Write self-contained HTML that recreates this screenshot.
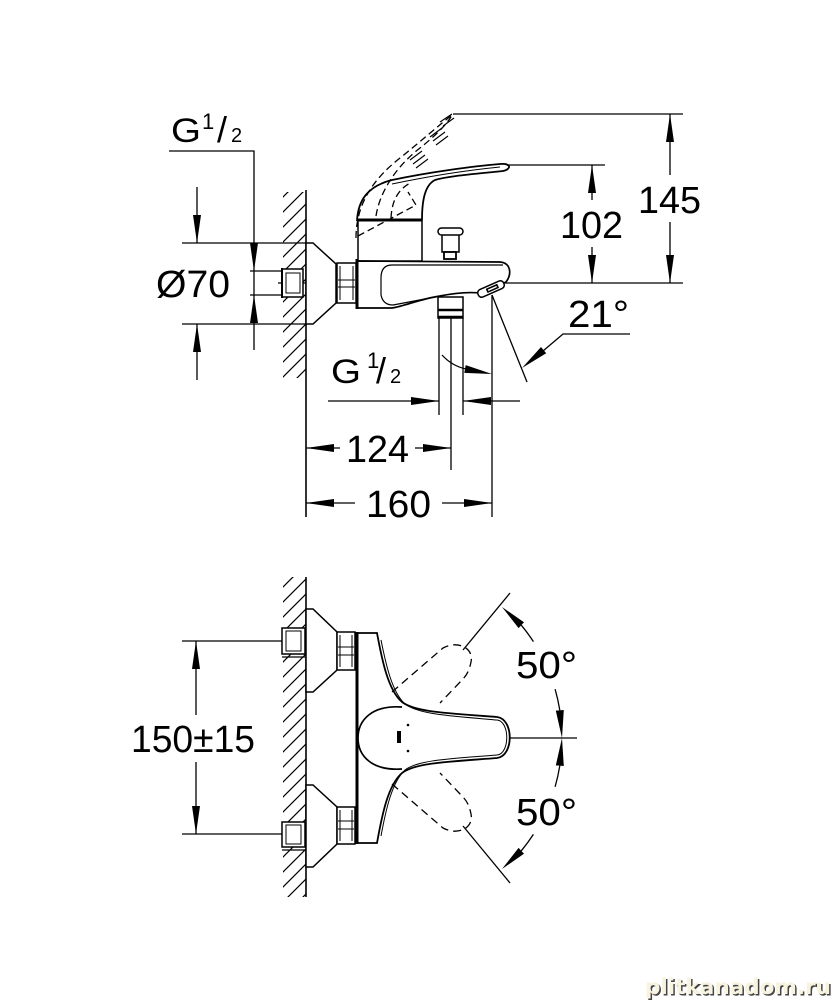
<!DOCTYPE html>
<html><head><meta charset="utf-8"><style>
html,body{margin:0;padding:0;background:#fff;}
svg{display:block;}
text{font-family:"Liberation Sans",Arial,sans-serif;fill:#000;}
</style></head><body>
<svg width="833" height="1000" viewBox="0 0 833 1000" xmlns="http://www.w3.org/2000/svg">
<defs>
<pattern id="h" width="15" height="15" patternUnits="userSpaceOnUse">
<path d="M-2,17 L17,-2 M-2,2 L2,-2 M13,17 L17,13" stroke="#000" stroke-width="1.2" fill="none"/>
</pattern>
</defs>
<rect width="833" height="1000" fill="#fff"/>

<!-- ============ TOP DRAWING ============ -->
<rect x="283" y="192" width="23" height="186" fill="url(#h)"/>
<g fill="none" stroke="#000" stroke-width="1.3">
  <line x1="306" y1="190" x2="306" y2="517" stroke-width="1.6"/>
  <polyline points="169,151 254,151 254,350"/>
  <line x1="250" y1="271" x2="283" y2="271"/>
  <line x1="250" y1="295" x2="283" y2="295"/>
  <line x1="182" y1="243" x2="307" y2="243"/>
  <line x1="182" y1="324" x2="307" y2="324"/>
  <line x1="197" y1="187" x2="197" y2="243"/>
  <line x1="197" y1="324" x2="197" y2="380"/>
  <line x1="278" y1="283" x2="683" y2="283"/>
  <line x1="453" y1="114" x2="683" y2="114"/>
  <line x1="505" y1="165" x2="605" y2="165"/>
  <line x1="592" y1="165" x2="592" y2="200"/>
  <line x1="592" y1="247" x2="592" y2="283"/>
  <line x1="670" y1="114" x2="670" y2="175"/>
  <line x1="670" y1="222" x2="670" y2="283"/>
  <line x1="492" y1="295" x2="527" y2="382"/>
  <polyline points="630,334 563,334 543,351"/>
  <line x1="439" y1="318" x2="439" y2="415"/>
  <line x1="451" y1="318" x2="451" y2="470"/>
  <line x1="463" y1="318" x2="463" y2="415"/>
  <line x1="492" y1="295" x2="492" y2="517"/>
  <line x1="328" y1="401" x2="439" y2="401"/>
  <line x1="463" y1="401" x2="520" y2="401"/>
  <path d="M442,355 Q452,366 466,369"/>
  <line x1="306" y1="448" x2="340" y2="448"/>
  <line x1="415" y1="448" x2="451" y2="448"/>
  <line x1="306" y1="503" x2="355" y2="503"/>
  <line x1="442" y1="503" x2="492" y2="503"/>
</g>

<g fill="#fff" stroke="#000" stroke-width="1.5">
  <rect x="282" y="269" width="21" height="28"/>
  <rect x="286" y="273" width="14" height="20" fill="none" stroke-width="1"/>
  <polygon points="306,243 313,243 336,264 336,303 313,324 306,324"/>
  <rect x="337" y="263" width="19" height="40"/>
  <g fill="none" stroke-width="1">
    <line x1="340" y1="266" x2="340" y2="300"/>
    <line x1="353" y1="266" x2="353" y2="300"/>
    <line x1="338" y1="280" x2="355" y2="280"/>
    <line x1="338" y1="287" x2="355" y2="287"/>
  </g>
  <rect x="358" y="220" width="64" height="41"/>
  <path d="M357,221 C358,200 368,186 392,180 C430,172 475,166 500,164 C511,163 512,169 503,171 C475,174 448,176 435,180 C425,185 422,200 422,220" fill="#fff" stroke-width="1.8"/>
  <path d="M392,184 C430,176 470,170 500,167" fill="none" stroke-width="1"/>
  <path d="M357,261 L500,262 C511,263 512,274 506,282 L480,293 C470,292 455,293 440,296 C420,299 405,306 392,308 L357,308 Z" stroke-width="1.7"/>
  <path d="M503,265 L392,265 Q381,265 381,278 L381,295 Q383,305 393,305 Q420,300 440,296" fill="none" stroke-width="1.2"/>
  <rect x="442" y="233" width="17" height="19"/>
  <rect x="444" y="252" width="12" height="7" stroke-width="1.8"/>
  <rect x="438" y="228" width="25" height="7" rx="3.5"/>
  <rect x="438" y="297" width="25" height="21"/>
  <g transform="translate(491,289) rotate(-24)">
    <rect x="-14" y="-4" width="28" height="8" rx="3.5"/>
    <rect x="-4" y="-1.5" width="11" height="3" fill="none" stroke-width="1.6"/>
  </g>
</g>
<g stroke="#000" stroke-width="3" fill="none">
  <line x1="357" y1="259" x2="357" y2="309"/>
  <line x1="358" y1="220" x2="422" y2="220"/>
  <line x1="282" y1="268" x2="282" y2="298" stroke-width="2"/>
  <line x1="438" y1="310" x2="463" y2="310" stroke-width="2.5"/>
  <line x1="438" y1="317" x2="463" y2="317" stroke-width="2.5"/>
</g>

<g fill="none" stroke="#000" stroke-width="1.3" stroke-dasharray="7 4">
  <path d="M356,238 C356,205 372,180 400,158 C420,142 438,126 452,115"/>
  <path d="M376,216 C380,190 398,165 420,148 C435,136 445,126 451,117"/>
  <path d="M391,218 C392,200 398,190 410,183"/>
  <path d="M358,236 L416,205 L408,192"/>
</g>
<g fill="none" stroke="#000" stroke-width="1.1">
  <path d="M410,160 L422,151 M413,164 L425,155 M416,168 L428,159"/>
  <path d="M430,137 L442,128 M433,141 L445,132 M436,145 L448,136"/>
  <path d="M440,122 L452,114 M443,126 L454,118"/>
</g>

<g fill="#000">
  <polygon points="197,243 193,215 201,215"/>
  <polygon points="197,324 193,352 201,352"/>
  <polygon points="254,271 250,243 258,243"/>
  <polygon points="254,295 250,323 258,323"/>
  <polygon points="592,165 588,193 596,193"/>
  <polygon points="592,283 588,255 596,255"/>
  <polygon points="670,114 666,142 674,142"/>
  <polygon points="670,283 666,255 674,255"/>
  <polygon points="522,368 546.2,353.2 541,347"/>
  <polygon points="439,401 411,397 411,405"/>
  <polygon points="463,401 491,397 491,405"/>
  <polygon points="492,374 464.3,372.9 465.7,365.1"/>
  <polygon points="306,448 334,444 334,452"/>
  <polygon points="451,448 423,444 423,452"/>
  <polygon points="306,503 334,499 334,507"/>
  <polygon points="492,503 464,499 464,507"/>
</g>

<text x="171" y="142" font-size="34" textLength="30" lengthAdjust="spacingAndGlyphs">G</text>
<text x="202" y="129" font-size="22">1</text>
<text x="217" y="142" font-size="36">/</text>
<text x="231" y="142" font-size="20">2</text>

<text x="331" y="383" font-size="34" textLength="30" lengthAdjust="spacingAndGlyphs">G</text>
<text x="367" y="368" font-size="22">1</text>
<text x="376" y="383" font-size="36">/</text>
<text x="390" y="383" font-size="20">2</text>

<text x="156" y="297" font-size="38" textLength="74" lengthAdjust="spacingAndGlyphs">Ø70</text>
<text x="560" y="238" font-size="38" textLength="63" lengthAdjust="spacingAndGlyphs">102</text>
<text x="638" y="213" font-size="38" textLength="63" lengthAdjust="spacingAndGlyphs">145</text>
<text x="568" y="327" font-size="38" textLength="61" lengthAdjust="spacingAndGlyphs">21°</text>
<text x="346" y="462" font-size="38" textLength="63" lengthAdjust="spacingAndGlyphs">124</text>
<text x="366" y="517" font-size="38" textLength="65" lengthAdjust="spacingAndGlyphs">160</text>

<!-- ============ BOTTOM DRAWING ============ -->
<rect x="283" y="577" width="23" height="320" fill="url(#h)"/>
<g fill="none" stroke="#000" stroke-width="1.3">
  <line x1="306" y1="577" x2="306" y2="897" stroke-width="1.6"/>
  <line x1="182" y1="641" x2="282" y2="641"/>
  <line x1="182" y1="834" x2="282" y2="834"/>
  <line x1="196" y1="641" x2="196" y2="715"/>
  <line x1="196" y1="762" x2="196" y2="834"/>
  <line x1="463" y1="650" x2="510" y2="593"/>
  <line x1="463" y1="826" x2="510" y2="883"/>
  <line x1="510" y1="738" x2="577" y2="738"/>
  <path d="M521.3,625.2 A177,177 0 0,1 533.4,641.6"/>
  <path d="M555.1,689.2 A177,177 0 0,1 559.8,710.3"/>
  <path d="M559.8,765.7 A177,177 0 0,1 555.1,786.8"/>
  <path d="M533.4,834.4 A177,177 0 0,1 521.3,850.8"/>
</g>

<g fill="#fff" stroke="#000" stroke-width="1.5">
  <rect x="282" y="628" width="23" height="26"/>
  <rect x="286" y="631" width="15" height="20" fill="none" stroke-width="1"/>
  <line x1="282" y1="657" x2="305" y2="657" stroke-width="1.2"/>
  <rect x="282" y="822" width="23" height="25"/>
  <rect x="286" y="825" width="15" height="19" fill="none" stroke-width="1"/>
  <line x1="282" y1="850" x2="305" y2="850" stroke-width="1.2"/>
  <polygon points="306,609 313,609 337,632 337,670 313,692 306,692"/>
  <polygon points="306,785 313,785 337,807 337,844 313,867 306,867"/>
  <rect x="337" y="632" width="18" height="38"/>
  <rect x="337" y="807" width="18" height="37"/>
  <g fill="none" stroke-width="1">
    <line x1="340" y1="635" x2="340" y2="667"/>
    <line x1="352" y1="635" x2="352" y2="667"/>
    <line x1="338" y1="647" x2="354" y2="647"/>
    <line x1="338" y1="655" x2="354" y2="655"/>
    <line x1="340" y1="810" x2="340" y2="841"/>
    <line x1="352" y1="810" x2="352" y2="841"/>
    <line x1="338" y1="821" x2="354" y2="821"/>
    <line x1="338" y1="829" x2="354" y2="829"/>
  </g>
  <path d="M357,633 L377,633 C382,660 388,690 402,702 C415,712 445,713 497,717 C514,719 514,756 497,758 C445,762 415,763 402,773 C388,785 382,815 377,843 L357,843 Z" stroke-width="1.8"/>
  <path d="M381,640 C386,665 392,692 405,704 C418,714 448,716 497,720 C510,721 510,754 497,755 C448,759 418,760 405,770 C392,782 386,809 381,836" fill="none" stroke-width="1"/>
  <path d="M402,707 C372,705 358,720 358,738 C358,756 372,771 402,769" fill="none" stroke-width="1.7"/>
</g>
<line x1="357" y1="632" x2="357" y2="844" stroke="#000" stroke-width="3"/>
<rect x="397" y="731" width="4" height="12" fill="#000"/>
<circle cx="408" cy="725" r="1.3" fill="#000"/>
<circle cx="408" cy="751" r="1.3" fill="#000"/>

<g fill="none" stroke="#000" stroke-width="1.3" stroke-dasharray="8 5">
  <path d="M392,692 L443,648 C458,640 474,648 471,662 C469,672 466,676 462,680 L440,703"/>
  <path d="M392,784 L443,828 C458,836 474,828 471,814 C469,804 466,800 462,796 L440,773"/>
</g>

<g fill="#000">
  <polygon points="196,641 192,669 200,669"/>
  <polygon points="196,834 192,806 200,806"/>
  <polygon points="502,607 524,622.3 518.6,628.1"/>
  <polygon points="562,738 563.8,710 555.8,710.6"/>
  <polygon points="562,738 563.8,766 555.8,765.4"/>
  <polygon points="502,869 524,853.7 518.6,847.9"/>
</g>

<text x="131" y="752" font-size="38" textLength="124" lengthAdjust="spacingAndGlyphs">150±15</text>
<text x="516" y="678" font-size="38" textLength="61" lengthAdjust="spacingAndGlyphs">50°</text>
<text x="516" y="825" font-size="38" textLength="61" lengthAdjust="spacingAndGlyphs">50°</text>

<text x="646.5" y="995.5" font-size="21" font-weight="bold" textLength="186" lengthAdjust="spacingAndGlyphs" style="font-family:'DejaVu Sans',sans-serif;fill:#444;">plitkanadom.ru</text>
<text x="645" y="994" font-size="21" font-weight="bold" textLength="186" lengthAdjust="spacingAndGlyphs" style="font-family:'DejaVu Sans',sans-serif;fill:#f7f3df;">plitkanadom.ru</text>
</svg>
</body></html>
